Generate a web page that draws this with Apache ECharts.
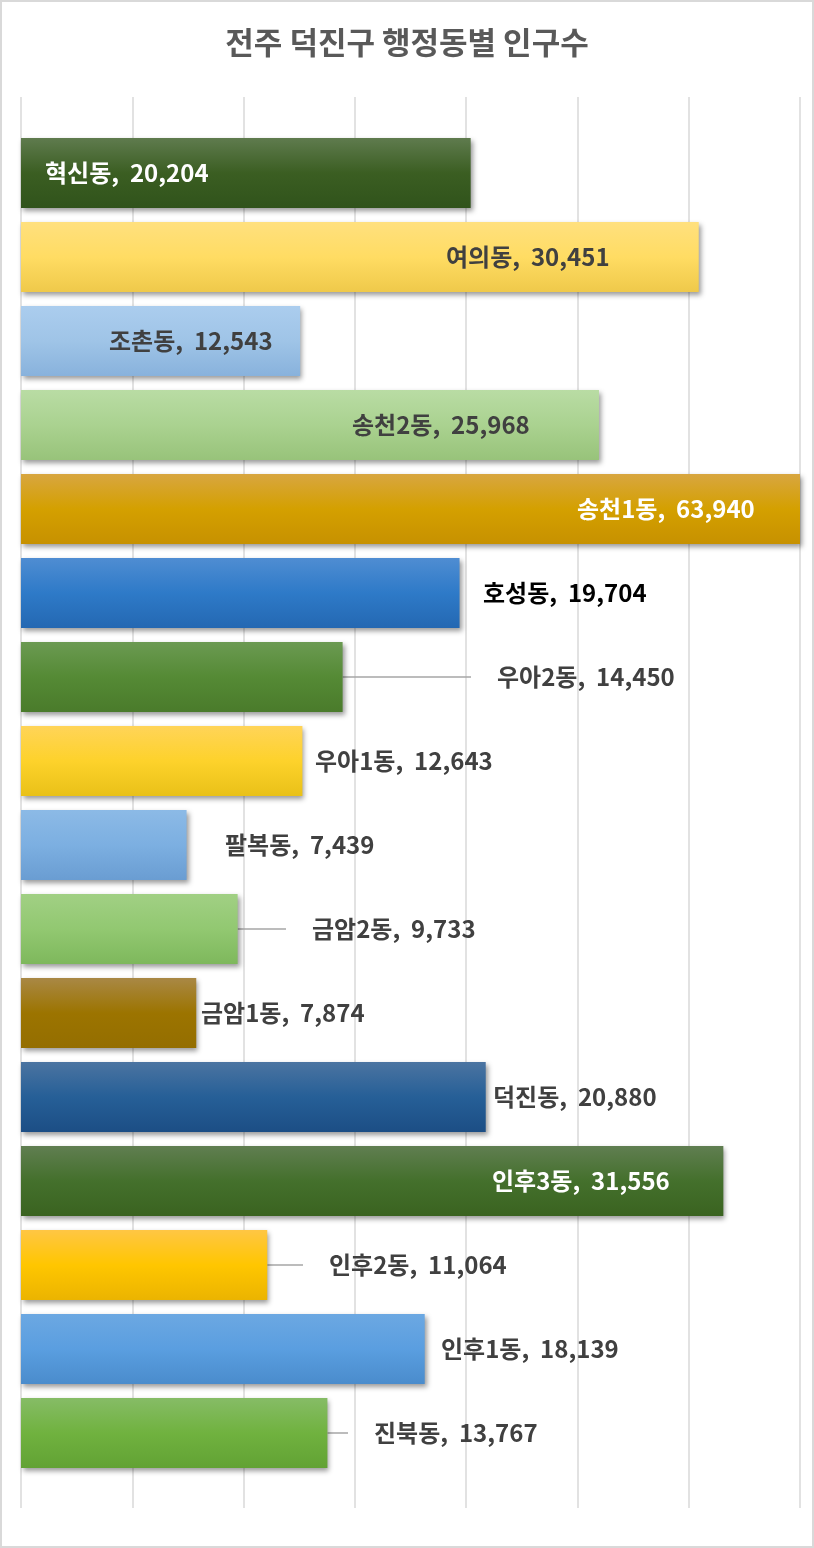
<!DOCTYPE html>
<html>
<head>
<meta charset="utf-8">
<script src="https://cdn.jsdelivr.net/npm/echarts@6/dist/echarts.min.js"></script>
<style>
  html, body { margin: 0; padding: 0; background: #fff; }
  #wrap { position: relative; width: 814px; height: 1548px; }
  #chart { width: 814px; height: 1548px; }
  #frame { position: absolute; left: 0; top: 0; width: 814px; height: 1548px;
           box-sizing: border-box; border: 2px solid #d9d9d9; pointer-events: none; }
</style>
</head>
<body>
<div id="wrap">
  <div id="chart"></div>
  <div id="frame"></div>
</div>
<script>
// 전주 덕진구 행정동별 인구수
var TITLE = '전주 덕진구 행정동별 인구수';
var CATEGORIES = ['혁신동', '여의동', '조촌동', '송천2동', '송천1동', '호성동', '우아2동', '우아1동',
  '팔복동', '금암2동', '금암1동', '덕진동', '인후3동', '인후2동', '인후1동', '진북동'];
var POPULATION = [20204, 30451, 12543, 25968, 63940, 19704, 14450, 12643,
  7439, 9733, 7874, 20880, 31556, 11064, 18139, 13767];
var AXIS_MIN = 0, AXIS_MAX = 35000, AXIS_STEP = 5000;

// styles (top, middle, bottom of each bar's gradient)
var BAR_COLORS = [
  ['#5f7b4e', '#3b5e22', '#30531b'],
  ['#ffe07e', '#ffdc63', '#efc94a'],
  ['#abcdee', '#9fc4e7', '#88b2dc'],
  ['#b9dca4', '#aad290', '#98c37a'],
  ['#d8a640', '#d4a000', '#c79100'],
  ['#4f8dd2', '#2e7ac8', '#2468b2'],
  ['#6b9a52', '#558a35', '#4a7b2b'],
  ['#ffd458', '#fdd22b', '#e9c118'],
  ['#8cbae6', '#7cafe1', '#6a9dd2'],
  ['#a1d084', '#92c871', '#7eb85c'],
  ['#a98845', '#9c7400', '#946e00'],
  ['#4b74a1', '#265f97', '#1c4e85'],
  ['#607e51', '#44702c', '#3a6320'],
  ['#ffc644', '#ffc600', '#ebb400'],
  ['#6ca8e2', '#5a9ee0', '#4a8ccc'],
  ['#86bc66', '#70b23f', '#62a234']
];
var LABEL_COLORS = ['#ffffff', '#404040', '#404040', '#404040', '#ffffff', '#000000', '#404040', '#404040',
  '#404040', '#404040', '#404040', '#404040', '#ffffff', '#404040', '#404040', '#404040'];
var LABEL_LEFT = [45, 446, 109, 352, 577, 483, 497, 315, 225, 312, 201, 493, 492, 329, 441, 374];
var LEADER = [false, false, false, false, false, false, true, false,
  false, true, false, false, false, true, false, true];
var LABEL_PAD = 26;

var chart = echarts.init(document.getElementById('chart'), null, { renderer: 'canvas' });

var seriesData = POPULATION.map(function (v, i) {
  var c = BAR_COLORS[i];
  return {
    value: v,
    itemStyle: {
      color: new echarts.graphic.LinearGradient(0, 0, 0, 1, [
        { offset: 0, color: c[0] },
        { offset: 0.5, color: c[1] },
        { offset: 1, color: c[2] }
      ])
    },
    label: { color: LABEL_COLORS[i] },
    labelLine: { show: LEADER[i] }
  };
});

var option = {
  animation: false,
  backgroundColor: '#ffffff',
  title: {
    text: TITLE,
    left: 'center',
    top: 27,
    padding: 0,
    textStyle: {
      fontFamily: 'Noto Sans CJK KR',
      fontSize: 31,
      fontWeight: 'bold',
      color: '#595959'
    }
  },
  grid: [
    { left: 21, right: 14, top: 97, bottom: 40 },
    { left: 21, right: 14, top: 131, bottom: 73 }
  ],
  xAxis: [
    {
      gridIndex: 0, type: 'value', min: AXIS_MIN, max: AXIS_MAX, interval: AXIS_STEP,
      axisLine: { show: false }, axisTick: { show: false }, axisLabel: { show: false },
      splitLine: { show: true, lineStyle: { color: '#d9d9d9', width: 1.5 } }
    },
    {
      gridIndex: 1, type: 'value', min: AXIS_MIN, max: AXIS_MAX, interval: AXIS_STEP,
      axisLine: { show: false }, axisTick: { show: false }, axisLabel: { show: false },
      splitLine: { show: false }
    }
  ],
  yAxis: [
    {
      gridIndex: 0, type: 'category', data: CATEGORIES, inverse: true,
      axisLine: { show: false }, axisTick: { show: false }, axisLabel: { show: false },
      splitLine: { show: false }
    },
    {
      gridIndex: 1, type: 'category', data: CATEGORIES, inverse: true,
      axisLine: { show: false }, axisTick: { show: false }, axisLabel: { show: false },
      splitLine: { show: false }
    }
  ],
  series: [{
    type: 'bar',
    xAxisIndex: 1,
    yAxisIndex: 1,
    barWidth: 70,
    clip: true,
    data: seriesData,
    itemStyle: {
      shadowColor: 'rgba(0,0,0,0.4)',
      shadowBlur: 5,
      shadowOffsetX: 2,
      shadowOffsetY: 3
    },
    label: {
      show: true,
      position: 'insideLeft',
      fontFamily: 'Noto Sans CJK KR',
      fontSize: 24,
      fontWeight: 'bold',
      padding: [0, 0, 0, LABEL_PAD],
      backgroundColor: 'rgba(255,255,255,0)',
      formatter: function (p) {
        return p.name + ',  ' + p.value.toLocaleString('en-US');
      }
    },
    labelLine: {
      show: false,
      lineStyle: { color: '#a6a6a6', width: 1.5 }
    },
    labelLayout: function (p) {
      return {
        x: p.rect.x + LABEL_LEFT[p.dataIndex] - 21 - LABEL_PAD,
        y: p.rect.y + p.rect.height / 2,
        align: 'left',
        verticalAlign: 'middle'
      };
    }
  }]
};

chart.setOption(option);
</script>
</body>
</html>
